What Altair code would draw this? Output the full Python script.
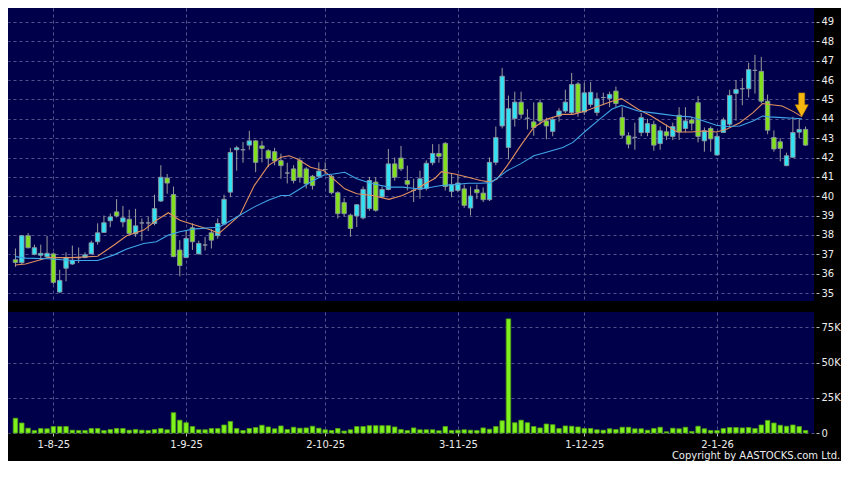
import altair as alt
import pandas as pd

# ---------------- data ----------------
opens = [36.72, 36.57, 37.96, 37.00, 36.95, 36.87, 37.02, 35.05, 36.28, 36.50,
         36.82, 36.83, 37.02, 37.65, 38.13, 38.73, 39.19, 38.67, 38.81, 38.06,
         38.62, 38.62, 38.59, 39.75, 40.94, 40.09, 37.22, 36.83, 38.37, 37.02,
         37.48, 38.11, 37.96, 38.56, 40.21, 42.40, 42.40, 42.64, 42.86, 42.60,
         42.35, 42.30, 41.84, 41.20, 41.41, 41.84, 41.41, 41.03, 41.03, 41.38,
         41.03, 40.18, 39.67, 39.02, 38.98, 38.88, 39.36, 40.73, 39.96, 40.35,
         41.67, 41.97, 40.81, 40.30, 40.35, 40.40, 41.73, 42.21, 42.73, 40.25,
         40.30, 40.38, 39.39, 40.34, 40.16, 39.82, 41.75, 43.63, 42.52, 44.01,
         44.86, 44.03, 43.84, 44.83, 43.89, 43.35, 44.14, 44.40, 44.32, 45.80,
         44.35, 44.74, 44.32, 45.10, 45.05, 45.43, 44.06, 43.12, 43.04, 43.29,
         43.29, 43.71, 42.72, 43.33, 43.09, 44.18, 43.50, 43.94, 44.83, 42.86,
         43.50, 42.13, 43.29, 43.72, 45.31, 45.55, 45.55, 46.50, 46.45, 44.91,
         43.03, 42.81, 41.58, 42.01, 43.31, 43.45]
closes = [36.58, 37.96, 37.34, 37.34, 37.05, 37.05, 35.55, 35.65, 36.83, 36.69,
          36.82, 36.97, 37.59, 38.11, 38.63, 38.93, 38.98, 38.88, 38.08, 38.47,
          38.62, 38.62, 39.36, 40.98, 40.68, 36.88, 36.42, 37.82, 37.65, 37.56,
          37.48, 37.73, 38.59, 39.84, 42.26, 42.50, 42.40, 42.86, 41.75, 42.47,
          41.96, 41.82, 41.58, 41.20, 40.81, 40.98, 40.64, 40.55, 41.30, 41.38,
          40.18, 39.10, 39.10, 38.33, 39.56, 40.35, 40.81, 39.27, 40.35, 41.67,
          40.98, 41.41, 40.62, 40.30, 40.90, 41.70, 42.21, 42.06, 40.50, 40.61,
          40.68, 39.53, 40.01, 40.18, 39.82, 41.75, 43.03, 46.20, 44.52, 44.86,
          44.23, 44.03, 43.55, 43.89, 43.63, 43.97, 44.40, 44.86, 45.77, 44.32,
          45.34, 45.37, 45.03, 45.10, 45.26, 44.79, 43.15, 42.69, 43.04, 44.06,
          43.75, 42.64, 43.38, 43.12, 43.60, 43.32, 43.89, 43.77, 43.09, 43.38,
          42.96, 43.09, 43.94, 45.21, 45.51, 45.55, 46.54, 46.50, 44.91, 43.41,
          42.44, 42.47, 42.09, 43.29, 43.45, 42.64]
highs = [37.30, 38.00, 38.10, 37.50, 37.50, 37.95, 37.10, 36.20, 37.10, 37.45,
         37.35, 37.10, 37.70, 38.60, 39.00, 39.10, 39.85, 39.50, 39.30, 39.35,
         38.85, 38.95, 40.08, 41.60, 41.15, 40.50, 37.73, 38.25, 38.60, 37.70,
         37.90, 38.30, 38.85, 40.08, 42.50, 42.60, 42.80, 43.38, 42.90, 42.86,
         42.43, 42.50, 42.20, 41.73, 41.60, 42.00, 41.50, 41.10, 41.75, 41.75,
         41.10, 40.25, 39.90, 39.10, 39.60, 40.50, 41.00, 40.98, 40.50, 42.44,
         42.00, 42.60, 41.58, 40.90, 41.32, 41.85, 42.69, 42.69, 42.80, 41.20,
         41.10, 40.60, 40.50, 40.60, 40.45, 42.00, 43.60, 46.63, 45.20, 45.40,
         45.40, 44.50, 44.85, 45.00, 44.06, 44.10, 44.55, 45.50, 46.37, 45.90,
         45.86, 45.90, 45.35, 45.35, 45.40, 45.67, 44.60, 43.30, 43.80, 44.30,
         44.00, 43.90, 43.60, 43.70, 43.80, 44.60, 44.60, 44.10, 45.17, 43.55,
         43.60, 43.30, 44.06, 45.50, 46.00, 46.10, 46.90, 47.30, 47.20, 45.25,
         43.40, 43.00, 42.25, 44.10, 44.00, 43.60]
lows = [36.35, 36.50, 37.30, 36.95, 36.70, 36.80, 35.45, 35.00, 35.60, 36.45,
        36.55, 36.80, 37.00, 37.50, 38.10, 38.40, 38.90, 38.40, 38.00, 37.90,
        37.70, 38.20, 38.50, 39.70, 40.13, 36.85, 35.86, 36.80, 37.22, 37.00,
        37.20, 37.30, 37.80, 38.50, 39.95, 41.32, 41.73, 42.40, 41.24, 41.75,
        41.50, 41.60, 40.90, 40.66, 40.66, 40.70, 40.40, 40.35, 40.95, 41.15,
        40.10, 38.85, 38.95, 37.91, 38.40, 38.80, 39.25, 39.20, 39.90, 40.30,
        40.80, 41.30, 40.30, 39.70, 39.87, 40.30, 41.60, 41.73, 40.30, 39.95,
        40.20, 39.40, 39.00, 39.85, 39.70, 39.75, 41.60, 43.50, 41.90, 43.60,
        44.00, 43.45, 43.12, 43.70, 42.94, 43.10, 43.85, 44.30, 44.20, 44.10,
        44.20, 44.60, 44.15, 44.70, 44.60, 44.60, 43.00, 42.47, 42.40, 43.10,
        43.10, 42.35, 42.40, 42.90, 42.90, 42.90, 43.30, 43.40, 42.78, 42.30,
        42.30, 42.10, 43.29, 43.60, 43.90, 44.70, 45.10, 45.30, 44.80, 43.20,
        42.30, 41.80, 41.55, 42.00, 43.00, 42.60]
volumes_k = [10.5, 7.1, 3.4, 1.8, 3.2, 3.0, 4.6, 4.6, 4.6, 2.0,
             1.8, 1.8, 3.2, 3.2, 1.8, 2.5, 3.2, 3.2, 2.0, 2.5,
             2.0, 1.8, 2.5, 3.2, 2.3, 14.4, 9.1, 7.3, 4.6, 2.3,
             2.3, 3.2, 3.2, 5.7, 8.2, 3.2, 1.8, 3.2, 3.9, 5.5,
             4.3, 3.0, 5.0, 2.5, 4.1, 3.4, 3.6, 4.8, 3.4, 2.3,
             1.8, 3.2, 1.4, 2.3, 4.6, 4.6, 5.2, 5.2, 5.2, 5.2,
             4.3, 2.5, 1.8, 3.6, 2.3, 2.3, 2.3, 1.6, 4.6, 1.8,
             2.0, 2.3, 2.0, 1.8, 3.6, 2.7, 4.6, 8.7, 81.0, 7.3,
             9.1, 7.3, 4.6, 3.6, 6.4, 5.9, 3.2, 5.0, 4.8, 4.3,
             3.2, 3.2, 2.3, 2.0, 3.0, 2.5, 4.1, 4.1, 3.0, 3.0,
             2.0, 3.2, 4.1, 0.9, 3.4, 3.0, 4.1, 1.1, 4.8, 3.0,
             1.8, 1.8, 3.2, 3.9, 3.9, 3.6, 3.9, 3.2, 5.7, 8.9,
             7.1, 5.5, 4.8, 5.7, 4.6, 1.8]

# moving averages, read at sample positions (x in candle-index units)
ma_idx = [0, 1.6, 5.2, 8.9, 13.0, 15.6, 17.6, 20.3, 22.3, 24.2, 26.0, 28.1, 30.7, 32.2,
          35.5, 37.8, 40.0, 42.0, 43.3, 44.6, 46.7, 48.8, 50.3, 52.1, 54.0, 56.5, 59.1,
          61.2, 63.3, 64.8, 66.4, 67.4, 69.5, 71.6, 73.6, 75.2, 76.2, 77.8, 79.9, 82.0,
          84.0, 86.6, 88.2, 90.2, 92.3, 94.4, 95.9, 98.5, 100.6, 102.7, 104.7, 106.8,
          108.9, 110.9, 112.5, 114.6, 116.7, 118.2, 119.3, 121.3, 123.1, 124.4]
ma_fast = [36.45, 36.50, 36.83, 36.83, 36.90, 37.48, 37.96, 38.25, 38.76, 39.15, 38.76,
           38.54, 38.28, 38.08, 39.02, 40.56, 41.58, 42.01, 42.09, 41.92, 41.50, 41.32,
           40.90, 40.38, 40.13, 40.04, 39.84, 40.04, 40.35, 40.64, 40.93, 41.27, 41.15,
           40.98, 40.81, 40.73, 40.90, 41.58, 42.60, 43.55, 43.97, 44.23, 44.23, 44.40,
           44.66, 44.91, 45.04, 44.49, 44.14, 43.72, 43.32, 43.32, 43.37, 43.32, 43.46,
           43.80, 44.32, 44.79, 44.74, 44.66, 44.37, 44.11]
ma_slow = [36.88, 36.80, 36.77, 36.68, 36.68, 36.97, 37.27, 37.56, 37.65, 37.99, 38.16,
           38.30, 38.37, 38.40, 39.02, 39.45, 39.79, 40.04, 40.04, 40.30, 40.73, 41.10,
           41.15, 41.24, 40.90, 40.64, 40.47, 40.47, 40.40, 40.40, 40.50, 40.55, 40.60,
           40.67, 40.67, 40.70, 40.93, 41.32, 41.67, 42.09, 42.27, 42.52, 42.78, 43.37,
           43.94, 44.50, 44.69, 44.40, 44.32, 44.23, 44.14, 44.10, 43.89, 43.67, 43.60,
           43.63, 43.89, 44.14, 44.10, 44.06, 44.03, 44.00]

tick_index = [6, 27, 49, 70, 90, 111]
tick_labels = ["1-8-25", "1-9-25", "2-10-25", "3-11-25", "1-12-25", "2-1-26"]
price_ticks = list(range(35, 50))
volume_ticks = [0, 25000, 50000, 75000]

# ---------------- tables ----------------
n = len(opens)
candles = pd.DataFrame({
    "i": list(range(n)), "open": opens, "close": closes,
    "high": highs, "low": lows, "volume": [v * 1000 for v in volumes_k],
})
candles["dir"] = [
    "up" if c > o else ("down" if c < o else "flat") for o, c in zip(opens, closes)
]
ma = pd.DataFrame({"i": ma_idx, "fast": ma_fast, "slow": ma_slow})
arrow = ma.tail(1)

# ---------------- styling ----------------
NAVY = "#00004a"
GRID = "#52528c"
TXT = "#ececec"
FONT = "DejaVu Sans"
PLOT_W = 806

label_expr = " : ".join(
    f"datum.value == {v} ? '{t}'" for v, t in zip(tick_index, tick_labels)
) + " : ''"

xscale = alt.Scale(domain=[-0.39, 125.55], nice=False, zero=False)
x_top = alt.X("i:Q", scale=xscale, title=None,
              axis=alt.Axis(values=tick_index, grid=True, gridColor=GRID, gridDash=[3, 3],
                            labels=False, ticks=False, domain=False, minExtent=0, maxExtent=0))
x_bot = alt.X("i:Q", scale=xscale, title=None,
              axis=alt.Axis(values=tick_index, grid=True, gridColor=GRID, gridDash=[3, 3],
                            labelExpr=label_expr, labelColor=TXT, labelFont=FONT,
                            labelFontSize=10, tickColor="#bdbdbd", tickSize=3,
                            labelPadding=3, domain=False, labelFlush=False))

yscale = alt.Scale(domain=[34.587, 49.723], nice=False, zero=False)
y_axis = alt.Axis(orient="right", values=price_ticks, grid=True, gridColor=GRID,
                  gridDash=[3, 3], domain=False, tickColor="#bdbdbd", tickSize=3,
                  offset=2, labelPadding=2, labelColor=TXT, labelFont=FONT,
                  labelFontSize=10, title=None)

base = alt.Chart(candles)

wicks = base.mark_rule(color="#9c9c9c", strokeWidth=1).encode(
    x=x_top, y=alt.Y("low:Q", scale=yscale, axis=y_axis), y2="high:Q")

bodies = base.mark_bar(size=4.4, stroke="#8b96a3", strokeWidth=0.9).encode(
    x=x_top, y=alt.Y("open:Q", scale=yscale, axis=y_axis), y2="close:Q",
    color=alt.Color("dir:N", legend=None,
                    scale=alt.Scale(domain=["up", "down", "flat"],
                                    range=["#33e2f2", "#82e01c", "#b4b4b4"])))

fast_line = alt.Chart(ma).mark_line(color="#e3915e", strokeWidth=1.1).encode(
    x=x_top, y=alt.Y("fast:Q", scale=yscale, axis=y_axis))
slow_line = alt.Chart(ma).mark_line(color="#3fa6e8", strokeWidth=1.1).encode(
    x=x_top, y=alt.Y("slow:Q", scale=yscale, axis=y_axis))

arrow_path = "M-0.25,-2L0.25,-2L0.25,-1L0.55,-1L0,0L-0.55,-1L-0.25,-1Z"
arrow_mark = alt.Chart(arrow).mark_point(
    shape=arrow_path, size=560, filled=True, fill="#f5b60f", stroke="#c88a00",
    strokeWidth=0.6, opacity=1).encode(
    x=x_top, y=alt.Y("fast:Q", scale=yscale, axis=y_axis))

price = alt.layer(wicks, bodies, fast_line, slow_line, arrow_mark).properties(
    width=PLOT_W, height=293)

vscale = alt.Scale(domain=[0, 85900], nice=False)
v_axis = alt.Axis(orient="right", values=volume_ticks, grid=True, gridColor=GRID,
                  gridDash=[3, 3], domain=False, tickColor="#bdbdbd", tickSize=3,
                  offset=2, labelPadding=2, labelColor=TXT, labelFont=FONT,
                  labelFontSize=10, title=None,
                  labelExpr="datum.value == 0 ? '0' : format(datum.value / 1000, 'd') + 'K'")

volume = base.mark_bar(size=4.5, color="#7ff21e", stroke="#4f9e12", strokeWidth=0.8).encode(
    x=x_bot, y=alt.Y("volume:Q", scale=vscale, axis=v_axis)).properties(width=PLOT_W, height=121)

chart = alt.vconcat(price, volume, spacing=11).properties(
    padding={"left": 0, "top": 0, "right": 0, "bottom": 0},
    background="#000000",
    title=alt.TitleParams("Copyright by AASTOCKS.com Ltd.", orient="bottom", anchor="end",
                          fontSize=10, font=FONT, fontWeight="normal", color=TXT, offset=2),
).configure_view(fill=NAVY, stroke=None).configure_concat(spacing=11)

chart.save("out.html", embed_options={"renderer": "svg", "actions": False})
